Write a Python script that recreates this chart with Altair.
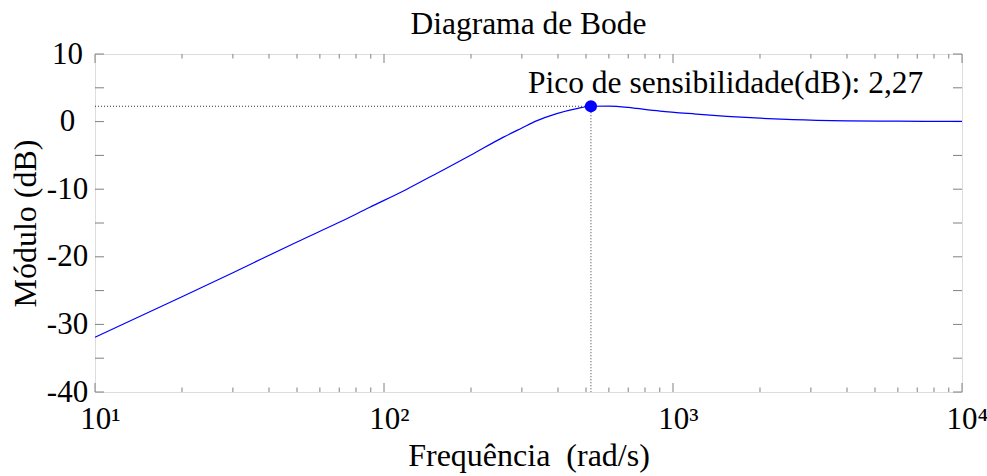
import altair as alt
import pandas as pd

# Bode magnitude of the sensitivity function
freq = [10, 20, 30, 50, 70, 89, 120, 152, 200, 259, 300, 337, 396, 464, 520,
        600, 700, 750, 902, 1200, 1535, 2000, 2600, 4000, 6000, 10000]
mag_db = [-31.9, -25.9, -22.35, -17.8, -14.9, -12.7, -10.0, -7.67, -4.95, -2.3, -0.95, 0.1, 1.18, 1.92, 2.27,
          2.3, 2.1, 1.95, 1.56, 1.12, 0.78, 0.5, 0.3, 0.12, 0.06, 0.03]

peak_freq = [520]
peak_db = [2.27]
peak_label = ["Pico de sensibilidade(dB): 2,27"]
x_domain = [10, 10000]
y_domain = [-40, 10]

x_major_ticks = [10, 100, 1000, 10000]
x_minor_ticks = [20, 30, 40, 50, 60, 70, 80, 90,
                 200, 300, 400, 500, 600, 700, 800, 900,
                 2000, 3000, 4000, 5000, 6000, 7000, 8000, 9000]
y_ticks = [-40, -35, -30, -25, -20, -15, -10, -5, 0, 5, 10]
y_labels = [-40, -30, -20, -10, 0, 10]

FONT = "'Liberation Serif', 'Times New Roman', Times, serif"
FS_LABEL = 31
FS_TEXT = 31.5
FS_TITLE = 32
W, H = 867, 338
TICK_COLOR = "#808080"

x_scale = alt.Scale(type="log", domain=x_domain, nice=False)
y_scale = alt.Scale(domain=y_domain, nice=False)

curve = pd.DataFrame({"f": freq, "db": mag_db})
peak = pd.DataFrame({"f": peak_freq, "db": peak_db, "label": peak_label,
                     "fmin": [x_domain[0]], "dbmin": [y_domain[0]]})
xmaj = pd.DataFrame({"f": x_major_ticks})
xmin = pd.DataFrame({"f": x_minor_ticks})
yt = pd.DataFrame({"db": y_ticks})

x_axis = alt.Axis(
    values=x_major_ticks,
    labelExpr="'10' + ['\u2070','\u00b9','\u00b2','\u00b3','\u2074'][round(log(datum.value)/LN10)]",
    labelFont=FONT, labelFontSize=FS_LABEL, labelColor="black", labelFlush=False,
    labelBaseline="alphabetic", labelPadding=36, labelOffset=5,
    ticks=False, tickSize=0, domain=False, grid=False,
    title="Frequência\u00a0 (rad/s)", titleFont=FONT, titleFontSize=FS_TITLE,
    titleFontWeight="normal", titleColor="black",
    titleBaseline="alphabetic", titleX=W / 2, titleY=73, titleAlign="center",
)
y_axis = alt.Axis(
    values=y_labels,
    labelExpr="'' + datum.value",
    labelFont=FONT, labelFontSize=FS_LABEL, labelColor="black", labelFlush=False,
    labelPadding=28, labelBaseline="middle", labelAlign="center",
    ticks=False, tickSize=0, domain=False, grid=False,
    title="Módulo (dB)", titleFont=FONT, titleFontSize=FS_TITLE,
    titleFontWeight="normal", titleColor="black",
    titleBaseline="alphabetic", titleAngle=-90, titleAlign="center",
    titleX=-59.5, titleY=H / 2,
)

line = alt.Chart(curve).mark_line(color="#0000ff", strokeWidth=1.2, interpolate="monotone").encode(
    x=alt.X("f:Q", scale=x_scale, axis=x_axis),
    y=alt.Y("db:Q", scale=y_scale, axis=y_axis),
)

hline = alt.Chart(peak).mark_rule(color="#333333", strokeDash=[1, 2], strokeWidth=1).encode(
    x=alt.X("fmin:Q", scale=x_scale), x2=alt.X2("f:Q"), y=alt.Y("db:Q", scale=y_scale),
)
vline = alt.Chart(peak).mark_rule(color="#333333", strokeDash=[1, 2], strokeWidth=1).encode(
    x=alt.X("f:Q", scale=x_scale), y=alt.Y("db:Q", scale=y_scale), y2=alt.Y2("dbmin:Q"),
)
dot = alt.Chart(peak).mark_point(filled=True, color="#0000ff", size=150, opacity=1).encode(
    x=alt.X("f:Q", scale=x_scale), y=alt.Y("db:Q", scale=y_scale),
)
txt = alt.Chart(peak).mark_text(
    font=FONT, fontSize=FS_TEXT, color="black", align="left", baseline="alphabetic", dx=-63, dy=-13
).encode(
    x=alt.X("f:Q", scale=x_scale), y=alt.Y("db:Q", scale=y_scale), text="label:N",
)

def xticks(df, length):
    bottom = alt.Chart(df).mark_rule(color=TICK_COLOR, strokeWidth=1).encode(
        x=alt.X("f:Q", scale=x_scale), y=alt.value(H), y2=alt.value(H - length))
    top = alt.Chart(df).mark_rule(color=TICK_COLOR, strokeWidth=1).encode(
        x=alt.X("f:Q", scale=x_scale), y=alt.value(0), y2=alt.value(length))
    return [bottom, top]

yl = alt.Chart(yt).mark_rule(color=TICK_COLOR, strokeWidth=1).encode(
    y=alt.Y("db:Q", scale=y_scale), x=alt.value(0), x2=alt.value(9))
yr = alt.Chart(yt).mark_rule(color=TICK_COLOR, strokeWidth=1).encode(
    y=alt.Y("db:Q", scale=y_scale), x=alt.value(W), x2=alt.value(W - 9))

layers = xticks(xmaj, 9) + xticks(xmin, 4.5) + [yl, yr, hline, vline, line, dot, txt]

chart = alt.layer(*layers).properties(
    width=W, height=H,
    title=alt.TitleParams(
        "Diagrama de Bode", font=FONT, fontSize=FS_TEXT, fontWeight="normal", color="black",
        anchor="middle", frame="group", offset=0, dy=2,
    ),
    autosize=alt.AutoSizeParams(type="none"),
    padding={"left": 95, "top": 54, "right": 25, "bottom": 84},
).configure_view(stroke="#808080", strokeWidth=1.2).configure(background="white")

chart.save("out.html", embed_options={"renderer": "svg", "actions": False})
